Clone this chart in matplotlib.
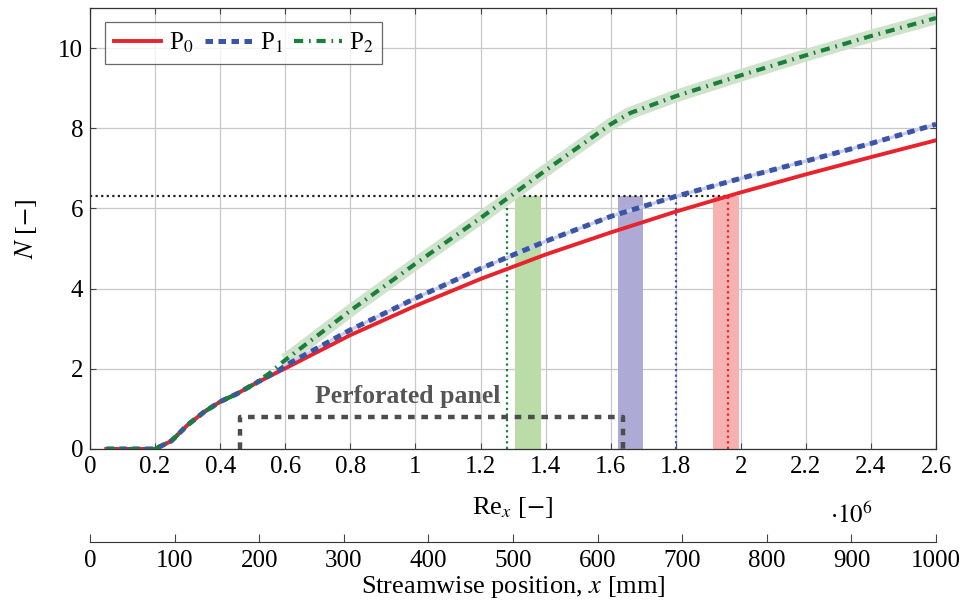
import matplotlib
matplotlib.use("Agg")
import matplotlib.pyplot as plt
import numpy as np

plt.rcParams['font.family'] = ['Liberation Serif', 'DejaVu Serif']
plt.rcParams['mathtext.fontset'] = 'stix'
plt.rcParams['font.size'] = 18

# Re_x in units of 1e6
p0_x = [0.05, 0.20, 0.22, 0.25, 0.30, 0.35, 0.40, 0.45, 0.50, 0.58, 0.60, 0.80, 1.00, 1.20, 1.40, 1.60, 1.80, 2.00, 2.20, 2.40, 2.60]
p0_y = [0.00, 0.00, 0.08, 0.20, 0.60, 0.92, 1.18, 1.37, 1.60, 1.93, 2.01, 2.84, 3.57, 4.24, 4.85, 5.40, 5.92, 6.40, 6.85, 7.28, 7.70]
p1_x = [0.05, 0.20, 0.22, 0.25, 0.30, 0.35, 0.40, 0.45, 0.50, 0.58, 0.60, 0.80, 1.00, 1.20, 1.40, 1.60, 1.80, 2.00, 2.20, 2.40, 2.60]
p1_y = [0.00, 0.00, 0.08, 0.20, 0.60, 0.92, 1.18, 1.37, 1.60, 1.96, 2.08, 2.97, 3.76, 4.50, 5.18, 5.80, 6.30, 6.75, 7.18, 7.62, 8.10]
p2_x = [0.05, 0.20, 0.22, 0.25, 0.30, 0.35, 0.40, 0.45, 0.50, 0.55, 0.60, 0.80, 1.00, 1.20, 1.40, 1.60, 1.66, 1.80, 2.00, 2.20, 2.40, 2.60]
p2_y = [0.00, 0.00, 0.08, 0.20, 0.60, 0.92, 1.18, 1.37, 1.60, 1.88, 2.22, 3.45, 4.62, 5.76, 6.95, 8.10, 8.38, 8.80, 9.32, 9.82, 10.30, 10.75]
p2_shade_start = 0.58

n_target = 6.3
cross_x = [1.28, 1.80, 1.96]          # green, blue, red
band_x0 = [1.305, 1.623, 1.915]
band_x1 = [1.385, 1.700, 1.995]
band_colors = ['#b9dca8', '#aeaad6', '#f7b1b1']
cross_colors = ['#1a7f3a', '#3a55a8', '#e8232b']

panel_x = [0.461, 1.638]
panel_y = 0.8

xticks = [0, 0.2, 0.4, 0.6, 0.8, 1, 1.2, 1.4, 1.6, 1.8, 2, 2.2, 2.4, 2.6]
xticklabels = ['0', '0.2', '0.4', '0.6', '0.8', '1', '1.2', '1.4', '1.6', '1.8', '2', '2.2', '2.4', '2.6']
yticks = [0, 2, 4, 6, 8, 10]
mm_ticks = [0, 100, 200, 300, 400, 500, 600, 700, 800, 900, 1000]

red = '#e8232b'
blue = '#3a55a8'
green = '#1a7f3a'

fig = plt.figure(figsize=(9.64, 6.05), dpi=100)
ax = fig.add_axes([0.0934, 0.2579, 0.8776, 0.7289])

ax.grid(True, color='#c8c8c8', linewidth=0.9)
ax.set_axisbelow(True)

for x0, x1, c in zip(band_x0, band_x1, band_colors):
    ax.fill_between([x0, x1], 0, n_target, color=c, linewidth=0, zorder=1.5)

ax.plot([0, cross_x[2]], [n_target, n_target], color='#222222', linestyle=(0, (1, 1.5)), linewidth=1.6, zorder=2)
for cx, c in zip(cross_x, cross_colors):
    ax.plot([cx, cx], [0, n_target], color=c, linestyle=(0, (1, 1.5)), linewidth=1.6, zorder=2)

ax.plot([panel_x[0], panel_x[0], panel_x[1], panel_x[1]], [0, panel_y, panel_y, 0],
        color='#4d4d4d', linestyle=(0, (1.5, 1.5)), linewidth=3.2, zorder=2)
ax.text(0.975, 1.3, 'Perforated panel', color='#555555', fontweight='bold', ha='center', va='center', fontsize=18.5)

# shades
sx = [x for x in p2_x if x >= p2_shade_start]
sy = [y for x, y in zip(p2_x, p2_y) if x >= p2_shade_start]
ax.plot(sx, sy, color='#cfe3cc', linewidth=9, solid_capstyle='butt', zorder=2.5)
ax.plot(p1_x, p1_y, color='#c8cbe8', linewidth=2.2, zorder=2.5)

ax.plot(p0_x, p0_y, color=red, linewidth=2.8, zorder=3, label='P$_0$')
ax.plot(p1_x, p1_y, color=blue, linewidth=3.6, linestyle=(0, (1.5, 1.1)), zorder=3.2, label='P$_1$')
ax.plot(p2_x, p2_y, color=green, linewidth=3.0, linestyle=(0, (2.2, 1.4, 0.4, 1.4)), zorder=3.4, label='P$_2$')

ax.set_xlim(0, 2.6)
ax.set_ylim(0, 11)
ax.set_xticks(xticks)
ax.set_xticklabels(xticklabels)
ax.set_yticks(yticks)
ax.tick_params(direction='in', top=True, right=True, length=4, width=0.8, color='#444444', labelsize=18, pad=5)
for s in ax.spines.values():
    s.set_color('#333333')
    s.set_linewidth(0.9)

ax.set_xlabel('Re$_x$ [$-$]', fontsize=19, labelpad=12)
ax.set_ylabel('$N$ [$-$]', fontsize=19, labelpad=14)
ax.text(0.90, -0.150, r'$\cdot 10^6$', transform=ax.transAxes, ha='center', va='center', fontsize=18)

leg = ax.legend(loc='upper left', ncol=3, frameon=True, fancybox=False, edgecolor='#444444',
                handlelength=1.9, handletextpad=0.3, columnspacing=0.45, borderpad=0.35,
                borderaxespad=0, fontsize=18, bbox_to_anchor=(0.0177, 0.968))
leg.get_frame().set_linewidth(0.9)

sec = ax.secondary_xaxis(-0.211, functions=(lambda r: r * 1e6 / 2600.0, lambda m: m * 2600.0 / 1e6))
sec.set_xticks(mm_ticks)
sec.tick_params(direction='in', length=6, width=0.8, color='#444444', labelsize=18, pad=6)
sec.spines['bottom'].set_color('#333333')
sec.set_xlabel('Streamwise position, $x$ [mm]', fontsize=19, labelpad=1)

fig.savefig('out.png', dpi=100)
